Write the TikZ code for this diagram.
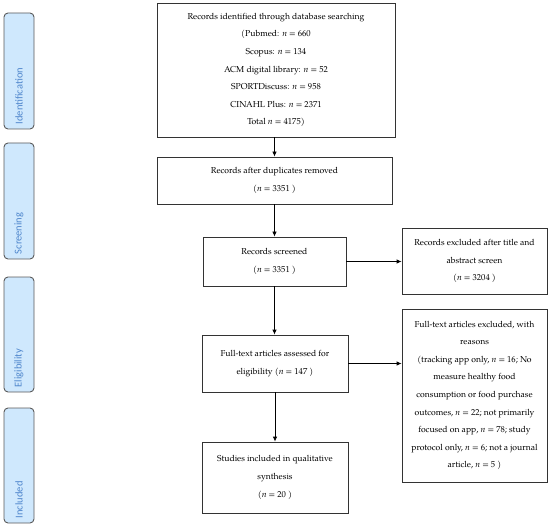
\documentclass[tikz,border=0pt]{standalone}
\usepackage{fontspec}
\setmainfont{TeX Gyre Pagella}
\newfontfamily\tabfont{Carlito}
\usetikzlibrary{arrows.meta}
\definecolor{tabfill}{RGB}{207,232,253}
\definecolor{tabtext}{RGB}{80,135,205}
\definecolor{tabline}{RGB}{90,90,90}
\begin{document}
\begin{tikzpicture}[x=1pt,y=-1pt,
  box/.style={draw=black!80, line width=0.8pt, inner sep=0pt, align=center,
    font=\fontsize{8.6}{17.6}\selectfont},
  tab/.style={draw=tabline, line width=0.9pt, fill=tabfill, rounded corners=4pt,
    minimum width=30pt, inner sep=0pt},
  tabtext/.style={font=\tabfont\fontsize{10.5}{11}\selectfont, text=tabtext, rotate=90,
    anchor=west, inner sep=0pt},
  arr/.style={-{Latex[length=5pt,width=4.5pt]}, line width=0.8pt}]
\useasboundingbox (0,0) rectangle (550,527);

% phase tabs
\node[tab, minimum height=116pt] (t1) at (19,71) {};
\node[tabtext] (t1l) at ([yshift=5pt]t1.south) {Identification};
\node[tab, minimum height=116pt] (t2) at (19,201) {};
\node[tabtext] (t2l) at ([yshift=5pt]t2.south) {Screening};
\node[tab, minimum height=115pt] (t3) at (19,334.5) {};
\node[tabtext] (t3l) at ([yshift=5pt]t3.south) {Eligibility};
\node[tab, minimum height=115pt] (t4) at (19,465.5) {};
\node[tabtext] (t4l) at ([yshift=5pt]t4.south) {Included};

% main boxes
\node[box, minimum width=238pt, minimum height=134pt] (b1) at (276,70)
  {Records identified through database searching\\
   (Pubmed: \textit{n} = 660\\
   Scopus: \textit{n} = 134\\
   ACM digital library: \textit{n} = 52\\
   SPORTDiscuss: \textit{n} = 958\\
   CINAHL Plus: \textit{n} = 2371\\
   Total \textit{n} = 4175)};
\node[box, minimum width=235pt, minimum height=47pt] (b2) at (274.5,180.5)
  {Records after duplicates removed\\(\textit{n} = 3351 )};
\node[box, minimum width=143pt, minimum height=49pt] (b3) at (274.5,261.5)
  {Records screened\\(\textit{n} = 3351 )};
\node[box, minimum width=145pt, minimum height=66pt] (e1) at (474.5,261)
  {Records excluded after title and\\abstract screen\\(\textit{n} = 3204 )};
\node[box, minimum width=146pt, minimum height=57pt] (b4) at (275,363.5)
  {Full-text articles assessed for\\eligibility (\textit{n} = 147 )};
\node[box, minimum width=145pt, minimum height=173pt] (e2) at (474.5,395.5)
  {Full-text articles excluded, with\\reasons\\
   (tracking app only, \textit{n} = 16; No\\
   measure healthy food\\
   consumption or food purchase\\
   outcomes, \textit{n} = 22; not primarily\\
   focused on app, \textit{n} = 78; study\\
   protocol only, \textit{n} = 6; not a journal\\
   article, \textit{n} = 5 )};
\node[box, minimum width=146pt, minimum height=71pt] (b5) at (275,477.5)
  {Studies included in qualitative\\synthesis\\(\textit{n} = 20 )};

% connectors
\draw[arr] ([xshift=-1.5pt]b1.south) -- ([xshift=-1.5pt]b1.south |- b2.north);
\draw[arr] (b2.south) -- (b2.south |- b3.north);
\draw[arr] (b3.east) -- (b3.east -| e1.west);
\draw[arr] (b3.south) -- (b3.south |- b4.north);
\draw[arr] (b4.east) -- (b4.east -| e2.west);
\draw[arr] (b4.south) -- (b4.south |- b5.north);
\end{tikzpicture}
\end{document}
